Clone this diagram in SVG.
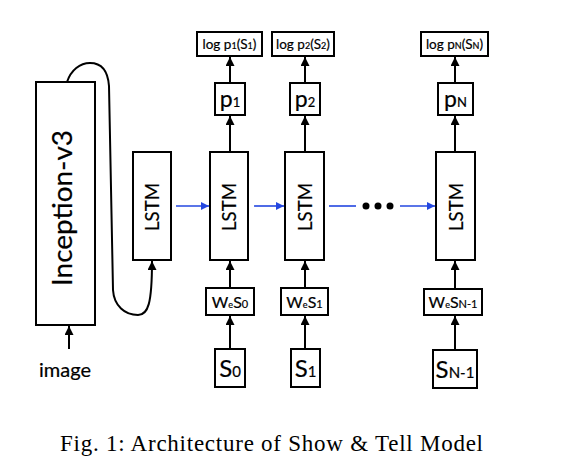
<svg xmlns="http://www.w3.org/2000/svg" width="569" height="465" viewBox="0 0 569 465">
<style>
.box{fill:#fff;stroke:#000;stroke-width:2}
.t{font-family:Lato,"Open Sans","DejaVu Sans",sans-serif;fill:#000;stroke:#000;stroke-width:0.2}
.c{fill:none;stroke:#000;stroke-width:2}
.b{fill:none;stroke:#2447e0;stroke-width:1.6}
.cap{font-family:"Liberation Serif","Times New Roman",serif;fill:#000}
</style>
<defs>
<marker id="ah" markerUnits="userSpaceOnUse" markerWidth="9" markerHeight="9" refX="9" refY="4.5" orient="auto"><path d="M0,0 L9,4.5 L0,9 z" fill="#000"/></marker>
<marker id="bh" markerUnits="userSpaceOnUse" markerWidth="8" markerHeight="8" refX="8" refY="4" orient="auto"><path d="M0,0 L8,4 L0,8 z" fill="#2447e0"/></marker>
</defs>
<rect width="569" height="465" fill="#fff"/>

<g id="connectors">
<path class="c" d="M69,349 L69,326" marker-end="url(#ah)"/>
<path class="c" d="M67,82 C71,70 80,63 90,63 C102,63 108,72 109,86 L113,290 C114,306 125,315 138,315 C148,315 152,304 152,261" marker-end="url(#ah)"/>
<path class="b" d="M176,206 L209,206" marker-end="url(#bh)"/>
<path class="b" d="M254,206 L284,206" marker-end="url(#bh)"/>
<path class="b" d="M329,206 L356,206"/>
<path class="b" d="M400,206 L435,206" marker-end="url(#bh)"/>
<g fill="#000"><circle cx="366" cy="206" r="3.5"/><circle cx="378" cy="206" r="3.5"/><circle cx="390" cy="206" r="3.5"/></g>
<path class="c" d="M230,349 L230,316" marker-end="url(#ah)"/>
<path class="c" d="M230,288 L230,261" marker-end="url(#ah)"/>
<path class="c" d="M230,152 L230,116" marker-end="url(#ah)"/>
<path class="c" d="M230,83 L230,57" marker-end="url(#ah)"/>
<path class="c" d="M305,349 L305,316" marker-end="url(#ah)"/>
<path class="c" d="M305,288 L305,261" marker-end="url(#ah)"/>
<path class="c" d="M305,152 L305,116" marker-end="url(#ah)"/>
<path class="c" d="M305,83 L305,57" marker-end="url(#ah)"/>
<path class="c" d="M455,350 L455,316" marker-end="url(#ah)"/>
<path class="c" d="M455,290 L455,261" marker-end="url(#ah)"/>
<path class="c" d="M455,152 L455,116" marker-end="url(#ah)"/>
<path class="c" d="M455,83 L455,57" marker-end="url(#ah)"/>
</g>

<g id="inception">
<rect class="box" x="36" y="82" width="59" height="243"/>
<text class="t" transform="translate(65,208) rotate(-90)" y="7" text-anchor="middle" font-size="27" textLength="156" lengthAdjust="spacingAndGlyphs">Inception-v3</text>
</g>
<g id="image">
<text class="t" x="65" y="377" text-anchor="middle" font-size="20">image</text>
</g>

<g id="lstm0">
<rect class="box" x="133" y="152" width="38" height="108"/>
<text class="t" transform="translate(152,207) rotate(-90)" y="7" text-anchor="middle" font-size="19" textLength="48" lengthAdjust="spacingAndGlyphs">LSTM</text>
</g>
<g id="lstm1">
<rect class="box" x="210" y="152" width="38" height="108"/>
<text class="t" transform="translate(229,207) rotate(-90)" y="7" text-anchor="middle" font-size="19" textLength="48" lengthAdjust="spacingAndGlyphs">LSTM</text>
</g>
<g id="lstm2">
<rect class="box" x="285" y="152" width="39" height="108"/>
<text class="t" transform="translate(304.5,207) rotate(-90)" y="7" text-anchor="middle" font-size="19" textLength="48" lengthAdjust="spacingAndGlyphs">LSTM</text>
</g>
<g id="lstmN">
<rect class="box" x="436" y="152" width="39" height="108"/>
<text class="t" transform="translate(455.5,207) rotate(-90)" y="7" text-anchor="middle" font-size="19" textLength="48" lengthAdjust="spacingAndGlyphs">LSTM</text>
</g>

<g id="logp1">
<rect class="box" x="197" y="32" width="65" height="24"/>
<text class="t" x="229.5" y="49" text-anchor="middle" font-size="13.5">log p<tspan font-size="9">1</tspan>(S<tspan font-size="9">1</tspan>)</text>
</g>
<g id="logp2">
<rect class="box" x="272" y="32" width="62" height="24"/>
<text class="t" x="303" y="49" text-anchor="middle" font-size="13.5">log p<tspan font-size="9">2</tspan>(S<tspan font-size="9">2</tspan>)</text>
</g>
<g id="logpN">
<rect class="box" x="421" y="32" width="67" height="24"/>
<text class="t" x="454.5" y="49" text-anchor="middle" font-size="13.5">log p<tspan font-size="9">N</tspan>(S<tspan font-size="9">N</tspan>)</text>
</g>

<g id="p1">
<rect class="box" x="215" y="83" width="30" height="32"/>
<text class="t" x="230" y="107" text-anchor="middle" font-size="23">p<tspan font-size="13">1</tspan></text>
</g>
<g id="p2">
<rect class="box" x="290" y="83" width="30" height="32"/>
<text class="t" x="305" y="107" text-anchor="middle" font-size="23">p<tspan font-size="13">2</tspan></text>
</g>
<g id="pN">
<rect class="box" x="438" y="83" width="35" height="32"/>
<text class="t" x="455.5" y="107" text-anchor="middle" font-size="23">p<tspan font-size="13">N</tspan></text>
</g>

<g id="wes0">
<rect class="box" x="206" y="288" width="48" height="27"/>
<text class="t" x="230" y="307.5" text-anchor="middle" font-size="16">W<tspan font-size="9">e</tspan>S<tspan font-size="11">0</tspan></text>
</g>
<g id="wes1">
<rect class="box" x="281" y="288" width="47" height="27"/>
<text class="t" x="304.5" y="307.5" text-anchor="middle" font-size="16">W<tspan font-size="9">e</tspan>S<tspan font-size="11">1</tspan></text>
</g>
<g id="wesN">
<rect class="box" x="424" y="289" width="58" height="26"/>
<text class="t" x="453" y="307.5" text-anchor="middle" font-size="16">W<tspan font-size="9">e</tspan>S<tspan font-size="11">N-1</tspan></text>
</g>

<g id="s0">
<rect class="box" x="215" y="349" width="30" height="38"/>
<text class="t" x="230" y="377" text-anchor="middle" font-size="24">S<tspan font-size="15">0</tspan></text>
</g>
<g id="s1">
<rect class="box" x="291" y="349" width="29" height="38"/>
<text class="t" x="305.5" y="377" text-anchor="middle" font-size="24">S<tspan font-size="15">1</tspan></text>
</g>
<g id="sN">
<rect class="box" x="433" y="350" width="44" height="38"/>
<text class="t" x="455" y="378" text-anchor="middle" font-size="24">S<tspan font-size="15">N-1</tspan></text>
</g>

<g id="caption">
<text class="cap" x="60" y="451" font-size="23" textLength="423">Fig. 1: Architecture of Show &amp; Tell Model</text>
</g>
</svg>
